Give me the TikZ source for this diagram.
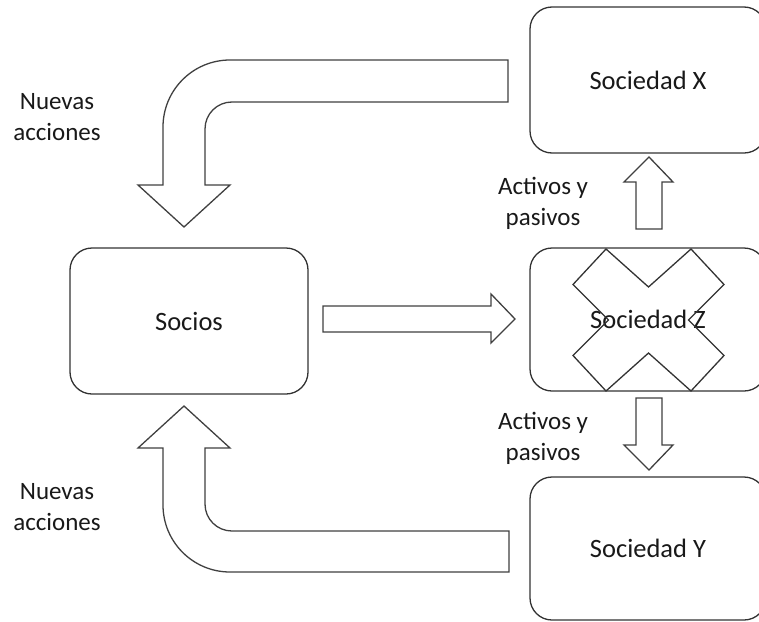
\documentclass[tikz,border=0pt]{standalone}
\usepackage{fontspec}
\setmainfont{Carlito}
\begin{document}
\begin{tikzpicture}[x=1pt,y=-1pt,
  entity/.style={draw=black!80, line width=1.3pt, rounded corners=22pt,
    font=\fontsize{26.5}{32}\selectfont, text=black!90, inner sep=0pt},
  note/.style={font=\fontsize{25}{31}\selectfont, align=center, text=black!90},
  blockarrow/.style={draw=black!75, line width=1.3pt, fill=white, line join=miter},
  cancel/.style={draw=black!80, line width=1.3pt, line join=miter}]
\useasboundingbox (0,0) rectangle (759,621);
\clip (0,0) rectangle (759,621);

% companies and partners
\node[entity, minimum width=236pt, minimum height=146pt] (sx) at (648,80) {Sociedad X};
\node[entity, minimum width=236pt, minimum height=143pt] (sz) at (648,319.5) {Sociedad Z};
\node[entity, minimum width=236pt, minimum height=143pt] (sy) at (648,548.5) {Sociedad Y};
\node[entity, minimum width=238pt, minimum height=146pt] (socios) at (189,321) {Socios};

% Z is dissolved: cross drawn over its box
\begin{scope}[shift={(sz.center)}, xshift=0.5pt, yshift=-0.5pt]
  \draw[cancel] (-42.5,-71) -- (0,-33) -- (42.5,-71) -- (75.5,-35.5) -- (40,0)
    -- (75.5,35.5) -- (42.5,71) -- (0,33) -- (-42.5,71) -- (-75.5,35.5)
    -- (-40,0) -- (-75.5,-35.5) -- cycle;
\end{scope}

% partners contribute to Z
\draw[blockarrow] (323,306) -- (491,306) -- (491,294) -- (515,319) -- (491,343)
  -- (491,332) -- (323,332) -- cycle;

% assets and liabilities to X and Y
\draw[blockarrow] (636,229) -- (636,182) -- (624,182) -- (649,157) -- (673,182)
  -- (662,182) -- (662,229) -- cycle;
\draw[blockarrow] (636,398) -- (636,445) -- (624,445) -- (649,470) -- (673,445)
  -- (662,445) -- (662,398) -- cycle;

% new shares back to the partners
\draw[blockarrow] (508,60) -- (230,60) .. controls (193,60) and (163,90) .. (163,127)
  -- (163,185) -- (138,185) -- (184,227) -- (230,185) -- (205,185) -- (205,129)
  .. controls (205,114) and (217,102) .. (232,102) -- (508,102) -- cycle;
\draw[blockarrow] (509,572) -- (230,572) .. controls (193,572) and (163,542) .. (163,505)
  -- (163,448) -- (138,448) -- (184,406) -- (230,448) -- (205,448) -- (205,504)
  .. controls (205,519) and (217,531) .. (232,531) -- (509,531) -- cycle;

% labels
\node[note] (na1) at (57,117) {Nuevas\\acciones};
\node[note] (ap1) at (543,203) {Activos y\\pasivos};
\node[note] (ap2) at (543,438) {Activos y\\pasivos};
\node[note] (na2) at (57,507) {Nuevas\\acciones};
\end{tikzpicture}
\end{document}
